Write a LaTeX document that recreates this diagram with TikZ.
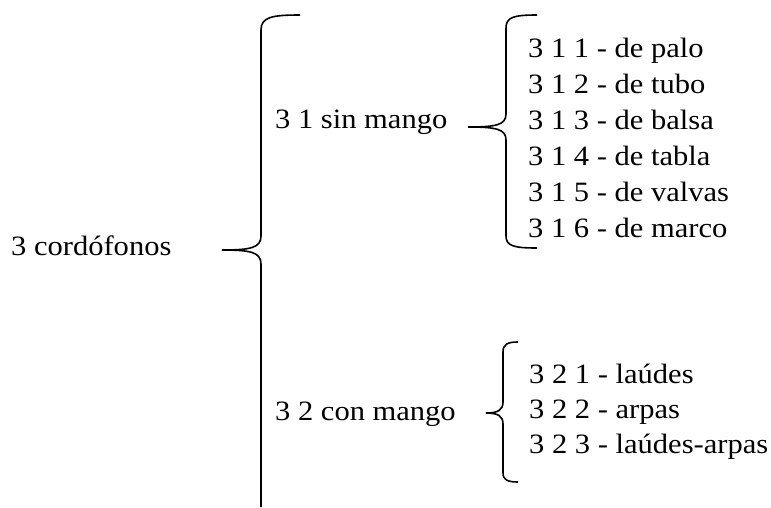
\documentclass[tikz,border=0pt]{standalone}
\usepackage{fontspec}
\setmainfont[FakeStretch=1.09]{Liberation Serif}
\usetikzlibrary{positioning}

\tikzset{
    lbl/.style={anchor=base west, inner sep=0pt, font=\fontsize{28}{34}\selectfont},
    brace/.style={line width=1.6pt}
}

\begin{document}
\begin{tikzpicture}[x=1pt, y=-1pt]
                \useasboundingbox (0, 0) rectangle (771, 507);

                \node[lbl] (cordofonos) at (11, 255) {3 cordófonos};

                \node[lbl] (sinmango) at (275, 128) {3 1 sin mango};

                \node[lbl] (conmango) at (275, 420) {3 2 con mango};

                \node[lbl] (palo) at (528, 57) {3 1 1 - de palo};
                \node[lbl] (tubo) at (528, 93) {3 1 2 - de tubo};
                \node[lbl] (balsa) at (528, 129) {3 1 3 - de balsa};
                \node[lbl] (tabla) at (528, 165) {3 1 4 - de tabla};
                \node[lbl] (valvas) at (528, 201) {3 1 5 - de valvas};
                \node[lbl] (marco) at (528, 237) {3 1 6 - de marco};

                \node[lbl] (laudes) at (529, 383) {3 2 1 - laúdes};
                \node[lbl] (arpas) at (529, 418) {3 2 2 - arpas};
                \node[lbl] (laudesarpas) at (529, 453) {3 2 3 - laúdes-arpas};

                % big brace
                \draw[brace] (300, 15) .. controls (272, 15) and (261, 17) .. (261, 30)
                    -- (261, 236) .. controls (261, 248) and (250, 250) .. (222, 250)
                    .. controls (250, 250) and (261, 252) .. (261, 264) -- (261, 507);

                % brace sin mango
                \draw[brace] (537, 15) .. controls (514, 15) and (506, 17) .. (506, 28)
                    -- (506, 114) .. controls (506, 125) and (496, 127) .. (468, 127)
                    .. controls (496, 127) and (506, 129) .. (506, 140)
                    -- (506, 236) .. controls (506, 246) and (514, 248) .. (537, 248);

                % brace con mango
                \draw[brace] (518, 342) .. controls (508, 342) and (503, 344) .. (503, 352)
                    -- (503, 402) .. controls (503, 410) and (498, 413) .. (486, 413)
                    .. controls (498, 413) and (503, 416) .. (503, 424)
                    -- (503, 473) .. controls (503, 480) and (508, 482) .. (518, 482);
            \end{tikzpicture}
\end{document}
